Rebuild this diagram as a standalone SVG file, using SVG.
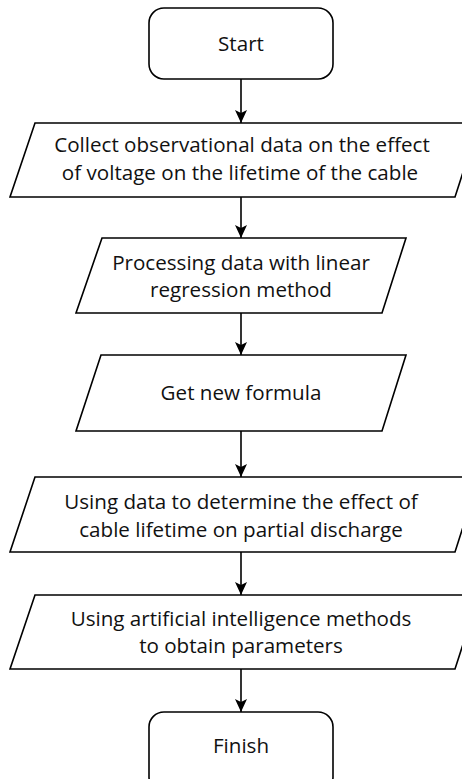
<svg xmlns="http://www.w3.org/2000/svg" width="462" height="779" viewBox="0 0 462 779">
<defs>
<style>
.shape{fill:#fff;stroke:#000;stroke-width:1.6;stroke-linejoin:miter}
.lbl{font-family:"Open Sans","Liberation Sans",sans-serif;font-size:20.6px;fill:#111;text-anchor:middle}
.conn{stroke:#000;stroke-width:1.6;fill:none}
</style>
<marker id="ah" markerUnits="userSpaceOnUse" markerWidth="14" markerHeight="12" viewBox="0 0 14 12" refX="13" refY="6" orient="auto">
<path d="M0,0 L13,6 L0,12 L3,6 Z" fill="#000"/>
</marker>
</defs>
<rect width="462" height="779" fill="#fff"/>
<g id="connectors">
<line class="conn" x1="241" y1="79" x2="241" y2="123" marker-end="url(#ah)"/>
<line class="conn" x1="241" y1="197" x2="241" y2="238" marker-end="url(#ah)"/>
<line class="conn" x1="241" y1="313" x2="241" y2="355" marker-end="url(#ah)"/>
<line class="conn" x1="241" y1="431" x2="241" y2="477" marker-end="url(#ah)"/>
<line class="conn" x1="241" y1="552" x2="241" y2="595" marker-end="url(#ah)"/>
<line class="conn" x1="241" y1="669" x2="241" y2="712" marker-end="url(#ah)"/>
</g>
<g id="start">
<rect class="shape" x="149" y="8" width="184" height="71" rx="15" ry="15"/>
<text class="lbl" x="241" y="51">Start</text>
</g>
<g id="collect">
<polygon class="shape" points="35,123 479,123 455,197 10,197"/>
<text class="lbl" x="242" y="152">Collect observational data on the effect</text>
<text class="lbl" x="240" y="180">of voltage on the lifetime of the cable</text>
</g>
<g id="processing">
<polygon class="shape" points="102,238 406,238 382,313 76,313"/>
<text class="lbl" x="241" y="270">Processing data with linear</text>
<text class="lbl" x="241" y="297">regression method</text>
</g>
<g id="formula">
<polygon class="shape" points="101,355 406,355 382,431 76,431"/>
<text class="lbl" x="241" y="400">Get new formula</text>
</g>
<g id="using-data">
<polygon class="shape" points="35,477 479,477 455,552 10,552"/>
<text class="lbl" x="241" y="509">Using data to determine the effect of</text>
<text class="lbl" x="241" y="537">cable lifetime on partial discharge</text>
</g>
<g id="using-ai">
<polygon class="shape" points="35,595 479,595 455,669 10,669"/>
<text class="lbl" x="241" y="626">Using artificial intelligence methods</text>
<text class="lbl" x="241" y="653">to obtain parameters</text>
</g>
<g id="finish">
<rect class="shape" x="149" y="712" width="184" height="80" rx="15" ry="15"/>
<text class="lbl" x="241" y="753">Finish</text>
</g>
</svg>
